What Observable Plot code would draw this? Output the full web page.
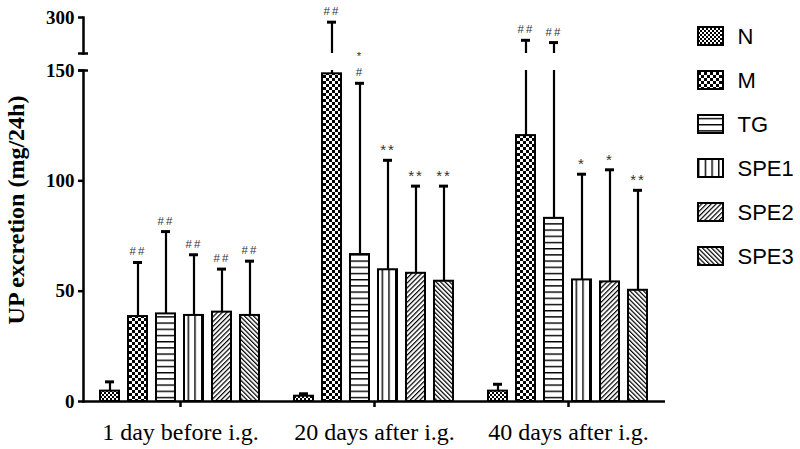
<!DOCTYPE html>
<html><head><meta charset="utf-8">
<script src="https://cdn.jsdelivr.net/npm/d3@7"></script>
<script src="https://cdn.jsdelivr.net/npm/@observablehq/plot@0.6"></script>
<style>
body{margin:0;background:#fff;}
#wrap{position:relative;width:800px;height:449px;overflow:hidden;background:#fff;}
#wrap > svg{position:absolute;overflow:visible;}
.annot text{letter-spacing:2px;}
</style></head><body>
<svg width="0" height="0" style="position:absolute">
 <defs>
  <pattern id="pat-N" patternUnits="userSpaceOnUse" width="4" height="4">
    <rect width="4" height="4" fill="#fff"/>
    <rect width="2" height="2" fill="#000"/>
    <rect x="2" y="2" width="2" height="2" fill="#000"/>
  </pattern>
  <pattern id="pat-M" patternUnits="userSpaceOnUse" width="6" height="6">
    <rect width="6" height="6" fill="#fff"/>
    <rect width="3" height="3" fill="#000"/>
    <rect x="3" y="3" width="3" height="3" fill="#000"/>
  </pattern>
  <pattern id="pat-TG" patternUnits="userSpaceOnUse" width="6" height="6.2">
    <rect width="6" height="6.2" fill="#fff"/>
    <rect y="0" width="6" height="1.4" fill="#000"/>
  </pattern>
  <pattern id="pat-SPE1" patternUnits="userSpaceOnUse" width="6.7" height="6">
    <rect width="6.7" height="6" fill="#fff"/>
    <rect x="0" width="1.4" height="6" fill="#000"/>
  </pattern>
  <pattern id="pat-SPE2" patternUnits="userSpaceOnUse" width="3.4" height="10" patternTransform="rotate(45)">
    <rect width="3.4" height="10" fill="#fff"/>
    <rect width="1.2" height="10" fill="#000"/>
  </pattern>
  <pattern id="pat-SPE3" patternUnits="userSpaceOnUse" width="3.2" height="10" patternTransform="rotate(-45)">
    <rect width="3.2" height="10" fill="#fff"/>
    <rect width="1.2" height="10" fill="#000"/>
  </pattern>
 </defs>
</svg>
<div id="wrap"></div>
<script>
const groups = ["1 day before i.g.", "20 days after i.g.", "40 days after i.g."];
const series = ["N", "M", "TG", "SPE1", "SPE2", "SPE3"];
const means1 = [4.7, 38.5, 39.7, 39.0, 40.5, 39.0];
const means2 = [2.4, 148.5, 66.6, 59.7, 58.1, 54.5];
const means3 = [4.7, 120.5, 83.0, 55.1, 54.2, 50.4];
const upper1 = [8.9, 63.0, 77.0, 66.5, 60.0, 63.6];
const upper2 = [3.5, 280.5, 144.2, 109.3, 97.6, 97.6];
const upper3 = [7.8, 205.0, 195.5, 103.0, 105.0, 95.7];
const sig1 = ["", "##", "##", "##", "##", "##"];
const sig2 = ["", "##", "*\n#", "**", "**", "**"];
const sig3 = ["", "##", "##", "*", "*", "**"];
const yTicksLower = [0, 50, 100, 150];
const yTicksUpper = [300];
const breakValue = 150;
const yTop = 300;
const yTitle = "UP excretion (mg/24h)";
const fills = series.map(s => `url(#pat-${s})`);

const means = [means1, means2, means3];
const uppers = [upper1, upper2, upper3];
const sigs = [sig1, sig2, sig3];
const rows = [];
groups.forEach((g, gi) => series.forEach((s, si) => rows.push({
  group: g, series: s, value: means[gi][si], upper: uppers[gi][si], sig: sigs[gi][si]
})));

const above = d => d.upper > breakValue;
const hashSig = d => d.sig.includes("#");
const starSig = d => d.sig && !d.sig.includes("#");
const W = 800, ML = 83, MR = 135;
const serif = "'Liberation Serif', 'Times New Roman', serif";
const sans = "'Liberation Sans', Arial, sans-serif";
const common = {
  width: W, marginLeft: ML, marginRight: MR,
  x: {domain: series, paddingInner: 0.31, paddingOuter: 0.5, axis: null},
  color: {domain: series, range: fills},
  style: {background: "transparent", overflow: "visible"}
};
const hashText = (yFn) => Plot.text(rows, {fx: "group", x: "series", y: yFn, text: "sig", dy: -7, lineAnchor: "bottom", lineHeight: 1.4, fontSize: 11.5, fill: "#333", fontFamily: sans, className: "annot"});
const starText = (yFn) => Plot.text(rows, {fx: "group", x: "series", y: yFn, text: "sig", dy: -5, lineAnchor: "bottom", fontSize: 15, fill: "#333", fontFamily: sans, className: "annot"});

// lower segment 0..150
const lower = Plot.plot({
  ...common,
  height: 449, marginTop: 70, marginBottom: 48,
  fx: {domain: groups, padding: 0},
  y: {domain: [0, breakValue]},
  marks: [
    Plot.barY(rows, {fx: "group", x: "series", y: "value", fill: "series", stroke: "black", strokeWidth: 2}),
    Plot.ruleX(rows, {fx: "group", x: "series", y1: "value", y2: d => Math.min(d.upper, breakValue), stroke: "black", strokeWidth: 2.2}),
    Plot.tickY(rows, {fx: "group", x: "series", y: d => above(d) ? NaN : d.upper, stroke: "black", strokeWidth: 3, insetLeft: 5, insetRight: 5}),
    hashText(d => above(d) || !hashSig(d) ? NaN : d.upper),
    starText(d => above(d) || !starSig(d) ? NaN : d.upper),
    Plot.ruleY([0], {stroke: "black", strokeWidth: 2.5}),
    Plot.frame({anchor: "left", facetAnchor: "left", stroke: "black", strokeWidth: 2.5}),
    Plot.axisY({ticks: yTicksLower, tickSize: 5, tickPadding: 4, strokeWidth: 2.5, label: null, fontSize: 19, fontWeight: "bold", fontFamily: serif}),
    Plot.axisY({ticks: [breakValue], tickSize: 10, dx: 5, text: null, label: null, strokeWidth: 2.5}),
    Plot.axisFx({anchor: "bottom", tickSize: 6, tickPadding: 15, strokeWidth: 2.5, label: null, fontSize: 24, fontFamily: serif}),
    Plot.text([yTitle], {frameAnchor: "left", facetAnchor: "left", textAnchor: "middle", rotate: -90, dx: -67, dy: -26, fontSize: 24, fontWeight: "bold", fontFamily: serif})
  ]
});

// upper segment 150..300
const upperPlot = Plot.plot({
  ...common,
  height: 57, marginTop: 17, marginBottom: 4,
  fx: {domain: groups, padding: 0, axis: null},
  y: {domain: [breakValue, yTop]},
  marks: [
    Plot.ruleX(rows, {fx: "group", x: "series", y1: d => above(d) ? Math.max(d.value, breakValue) : NaN, y2: d => above(d) ? d.upper : NaN, stroke: "black", strokeWidth: 2.2}),
    Plot.tickY(rows, {fx: "group", x: "series", y: d => above(d) ? d.upper : NaN, stroke: "black", strokeWidth: 3, insetLeft: 5, insetRight: 5}),
    hashText(d => above(d) && hashSig(d) ? d.upper : NaN),
    Plot.frame({anchor: "left", facetAnchor: "left", stroke: "black", strokeWidth: 2.5}),
    Plot.axisY({ticks: yTicksUpper, tickSize: 5, tickPadding: 4, strokeWidth: 2.5, label: null, fontSize: 19, fontWeight: "bold", fontFamily: serif}),
    Plot.axisY({ticks: [breakValue], tickSize: 10, dx: 5, text: null, label: null, strokeWidth: 2.5})
  ]
});

// legend
const legend = Plot.plot({
  width: 110, height: 290, marginLeft: 0, marginRight: 85, marginTop: 0, marginBottom: 0,
  y: {type: "band", domain: series, range: [13.9, 279.1], paddingInner: 0.59, paddingOuter: 0.295, axis: null},
  color: {domain: series, range: fills},
  style: {background: "transparent", overflow: "visible"},
  marks: [
    Plot.cell(series, {y: d => d, fill: d => d, stroke: "black", strokeWidth: 2}),
    Plot.text(series, {y: d => d, text: d => d, frameAnchor: "right", textAnchor: "start", dx: 14, fontSize: 22, fontFamily: sans, fill: "black"})
  ]
});

const wrap = document.getElementById("wrap");
lower.style.left = "0px"; lower.style.top = "0px";
upperPlot.style.left = "0px"; upperPlot.style.top = "0px";
legend.style.left = "698px"; legend.style.top = "0px";
wrap.appendChild(lower);
wrap.appendChild(upperPlot);
wrap.appendChild(legend);
</script>
</body></html>
